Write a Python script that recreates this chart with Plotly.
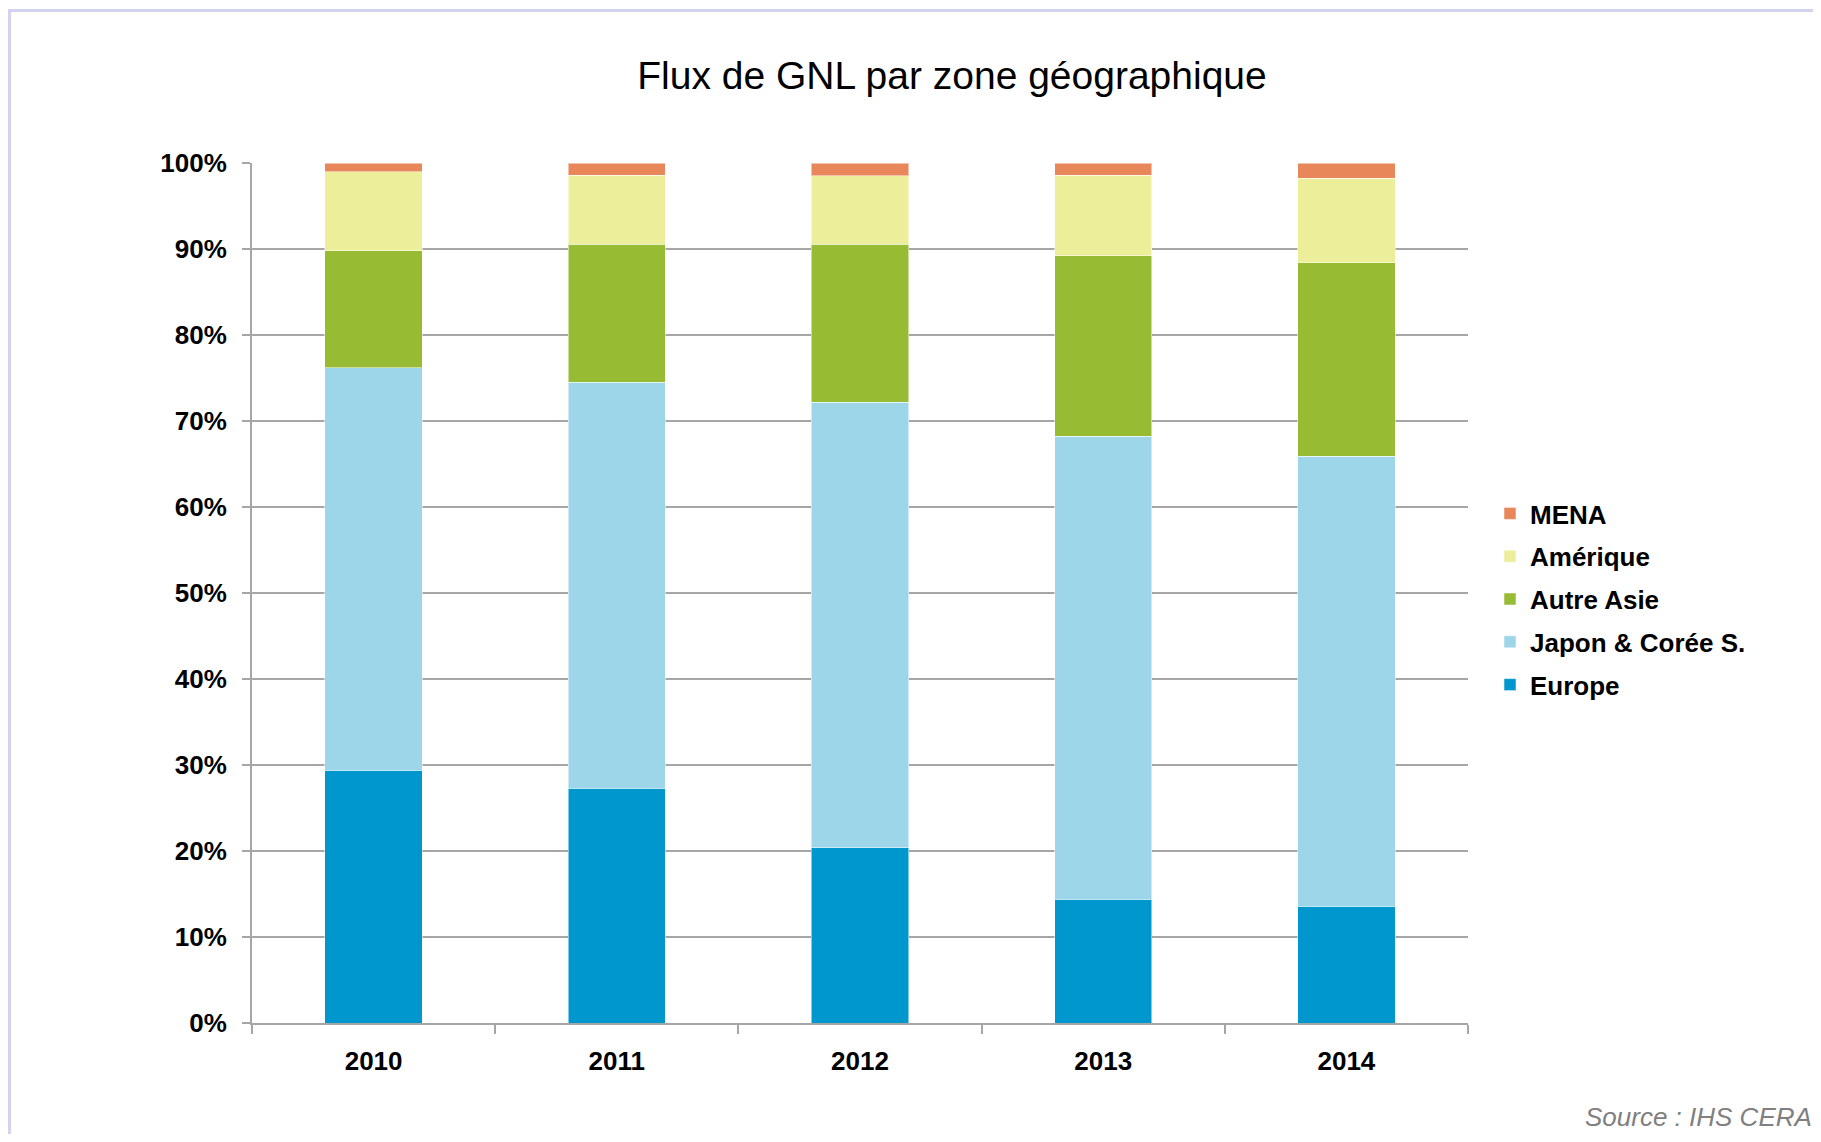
import plotly.graph_objects as go

years = ["2010", "2011", "2012", "2013", "2014"]
europe = [29.4, 27.3, 20.4, 14.4, 13.6]
japon_coree = [46.8, 47.2, 51.8, 53.8, 52.3]
autre_asie = [13.6, 16.05, 18.35, 21.0, 22.5]
amerique = [9.2, 8.05, 7.95, 9.4, 9.8]
mena = [1.0, 1.4, 1.5, 1.4, 1.8]

series_names = ["Europe", "Japon & Corée S.", "Autre Asie", "Amérique", "MENA"]
series_values = [europe, japon_coree, autre_asie, amerique, mena]
series_colors = ["#0097CF", "#9DD5E9", "#97BB32", "#EDEE9A", "#E8875A"]
y_ticks = [0, 10, 20, 30, 40, 50, 60, 70, 80, 90, 100]
y_tick_labels = [f"{v}%" for v in y_ticks]

# page body has an 8px margin: build the figure in page coordinates minus 8
OFF = 8
W, H = 1821 - 2 * OFF, 1142 - 2 * OFF
L = 252 - OFF
T = 163 - OFF
R = W - (1468 - OFF)
B = H - (1023 - OFF)
pw, ph = W - L - R, H - T - B

def px(x):
    return (x - OFF - L) / pw

def py(y):
    return (H - B - (y - OFF)) / ph

fig = go.Figure()
n = len(series_names)
for i, (name, vals, col) in enumerate(zip(series_names, series_values, series_colors)):
    fig.add_trace(go.Bar(
        x=years, y=vals, name=name, legendgroup=name, legendrank=n - i,
        marker=dict(color=col, line=dict(color="rgba(255,255,255,0.5)", width=1)),
    ))

font_fam = "Liberation Sans, Arial, sans-serif"
fig.update_layout(
    width=W, height=H,
    margin=dict(l=L, r=R, t=T, b=B, pad=0),
    paper_bgcolor="white", plot_bgcolor="white",
    barmode="stack", bargap=0.6,
    font=dict(family=font_fam, color="black"),
    title=dict(text="Flux de GNL par zone géographique",
               font=dict(size=39, family=font_fam, color="black"),
               x=(952 - OFF) / W, xanchor="center", y=1 - (75 - OFF) / H, yanchor="middle"),
    showlegend=True,
    legend=dict(
        traceorder="grouped",
        font=dict(size=26, family=font_fam, weight="bold", color="black"),
        x=px(1490), xanchor="left", y=py(490), yanchor="top",
        tracegroupgap=6, itemwidth=30, bgcolor="rgba(0,0,0,0)",
    ),
    xaxis=dict(
        showline=True, linecolor="#A6A6A6", linewidth=2,
        ticks="outside", tickson="boundaries", ticklen=9, tickcolor="#A6A6A6", tickwidth=2,
        tickfont=dict(size=26, family=font_fam, weight="bold", color="black"),
        ticklabelstandoff=14, showgrid=False, fixedrange=True,
    ),
    yaxis=dict(
        range=[0, 100], tickvals=y_ticks, ticktext=y_tick_labels,
        showline=True, linecolor="#A6A6A6", linewidth=2,
        ticks="outside", ticklen=8, tickcolor="#A6A6A6", tickwidth=2,
        showgrid=True, gridcolor="#A6A6A6", gridwidth=2, zeroline=False,
        tickfont=dict(size=26, family=font_fam, weight="bold", color="black"),
        ticklabelstandoff=10, fixedrange=True,
    ),
    annotations=[dict(
        text="Source : IHS CERA", xref="paper", yref="paper",
        x=px(1814), y=py(1117), xanchor="right", yanchor="middle",
        showarrow=False, font=dict(size=26, family=font_fam, style="italic", color="#808080"),
    )],
    shapes=[dict(
        type="rect", xref="paper", yref="paper",
        x0=px(9.5), x1=px(1900), y0=py(1200), y1=py(10.5),
        line=dict(color="#D3D3F0", width=3), fillcolor="rgba(0,0,0,0)", layer="below",
    )],
)

fig.write_html("out.html")
